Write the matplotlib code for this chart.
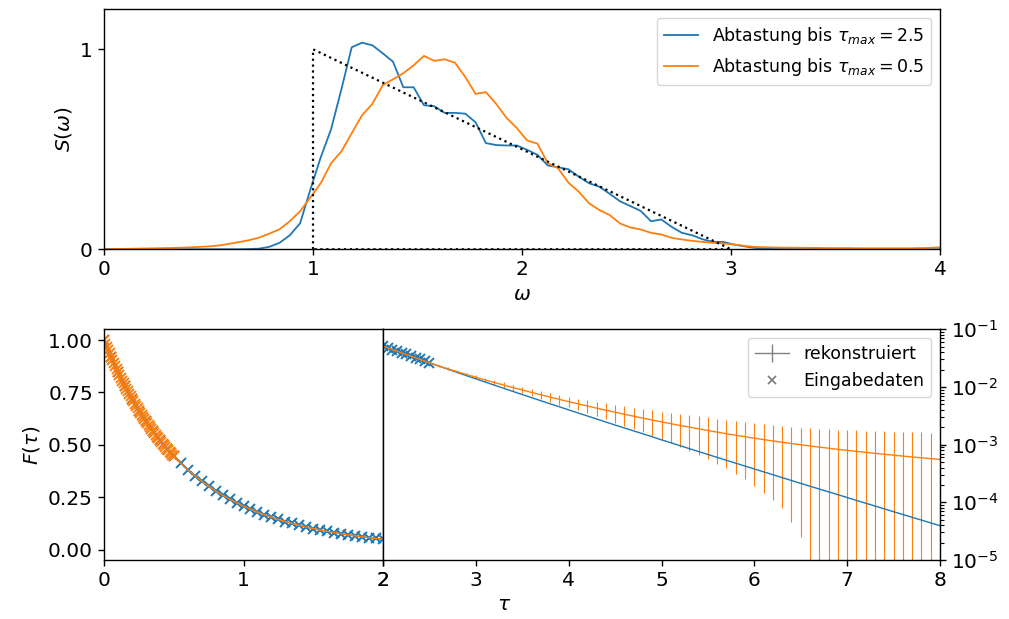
import numpy as np
import matplotlib
matplotlib.use("Agg")
import matplotlib.pyplot as plt
from matplotlib.ticker import LogLocator, NullFormatter

blue = "#1f77b4"
orange = "#ff7f0e"

# --- top panel: spectra S(omega) ---
omega = np.linspace(0, 4, 82)
S_blue = [0, 0, 0, 0, 0, 0, 0, 0, 0, 0, 0, 0, 0, 0,
          0.001, 0.003, 0.012, 0.032, 0.07, 0.13, 0.30, 0.46, 0.60, 0.80,
          1.01, 1.033, 1.02, 0.98, 0.938, 0.81, 0.81, 0.72, 0.715, 0.682,
          0.682, 0.678, 0.635, 0.531, 0.521, 0.519, 0.519, 0.497, 0.472, 0.419,
          0.41, 0.40, 0.363, 0.33, 0.313, 0.277, 0.24, 0.216, 0.192, 0.14,
          0.149, 0.112, 0.082, 0.07, 0.05, 0.037, 0.037, 0.024, 0.015, 0.007,
          0.003, 0.001, 0.001, 0, 0, 0, 0, 0, 0, 0, 0, 0, 0, 0, 0, 0, 0, 0]
S_orange = [0.0, 0.001, 0.002, 0.003, 0.004, 0.005, 0.006, 0.007, 0.009, 0.011,
            0.014, 0.018, 0.026, 0.035, 0.045, 0.058, 0.078, 0.10, 0.14, 0.19,
            0.26, 0.33, 0.43, 0.49, 0.58, 0.67, 0.727, 0.82, 0.85, 0.88,
            0.92, 0.967, 0.942, 0.95, 0.933, 0.862, 0.777, 0.786, 0.727, 0.657,
            0.606, 0.544, 0.528, 0.43, 0.405, 0.333, 0.288, 0.23, 0.196, 0.171,
            0.129, 0.109, 0.099, 0.082, 0.074, 0.057, 0.049, 0.042, 0.037, 0.032,
            0.029, 0.024, 0.017, 0.012, 0.010, 0.009, 0.008, 0.008, 0.007, 0.007,
            0.006, 0.006, 0.006, 0.005, 0.005, 0.005, 0.005, 0.005, 0.005, 0.006,
            0.007, 0.010]
tri_omega = [1, 1, 3, 1]
tri_S = [0, 1, 0, 0]

# --- bottom panels: F(tau) ---
tau_blue = np.linspace(0, 2.5, 51)
F_blue = [1.000, 0.920, 0.847, 0.781, 0.720, 0.664, 0.612, 0.565, 0.522, 0.483,
          0.446, 0.413, 0.382, 0.354, 0.328, 0.304, 0.281, 0.261, 0.242, 0.225,
          0.209, 0.194, 0.180, 0.168, 0.156, 0.145, 0.135, 0.126, 0.117, 0.109,
          0.102, 0.0948, 0.0884, 0.0824, 0.0769, 0.0718, 0.0670, 0.0626, 0.0585, 0.0546,
          0.0511, 0.0477, 0.0446, 0.0418, 0.0391, 0.0366, 0.0342, 0.0320, 0.0300, 0.0281,
          0.0263]
tau_orange = np.linspace(0, 0.5, 51)
F_orange = [1.000, 0.983, 0.967, 0.951, 0.936, 0.920, 0.905, 0.890, 0.876, 0.861,
            0.847, 0.834, 0.820, 0.807, 0.794, 0.781, 0.768, 0.756, 0.743, 0.731,
            0.720, 0.708, 0.697, 0.686, 0.675, 0.664, 0.653, 0.643, 0.632, 0.622,
            0.612, 0.603, 0.593, 0.584, 0.575, 0.565, 0.557, 0.548, 0.539, 0.531,
            0.522, 0.514, 0.506, 0.498, 0.490, 0.483, 0.475, 0.468, 0.460, 0.453,
            0.446]

tau_rec = np.linspace(2, 8, 61)
rec_blue = [0.0511, 0.0446, 0.0391, 0.0342, 0.0300, 0.0263, 0.0231, 0.0203, 0.01785, 0.01571,
            0.01384, 0.01219, 0.01075, 0.00949, 0.00837, 0.00740, 0.00654, 0.00578, 0.00511, 0.00453,
            0.00401, 0.00355, 0.00315, 0.00279, 0.00247, 0.00219, 0.00195, 0.00173, 0.00154, 0.00137,
            0.00121, 0.00108, 9.59e-4, 8.53e-4, 7.59e-4, 6.76e-4, 6.01e-4, 5.36e-4, 4.77e-4, 4.25e-4,
            3.79e-4, 3.38e-4, 3.01e-4, 2.68e-4, 2.39e-4, 2.13e-4, 1.90e-4, 1.70e-4, 1.52e-4, 1.36e-4,
            1.21e-4, 1.08e-4, 9.65e-5, 8.63e-5, 7.70e-5, 6.88e-5, 6.15e-5, 5.50e-5, 4.92e-5, 4.40e-5,
            3.93e-5]
rec_blue_err = [4e-6, 4e-6, 4e-6, 4e-6, 4e-6, 4e-6, 4e-6, 4e-6, 4e-6, 4e-6,
                4e-6, 4e-6, 4e-6, 4e-6, 4e-6, 4e-6, 4e-6, 4e-6, 4e-6, 4e-6,
                4e-6, 4e-6, 4e-6, 4e-6, 4e-6, 4.5e-6, 4.5e-6, 4.5e-6, 4.5e-6, 4.5e-6,
                4.5e-6, 4.5e-6, 4.5e-6, 4.5e-6, 4.5e-6, 5e-6, 5e-6, 5e-6, 5e-6, 5e-6,
                5e-6, 5e-6, 5e-6, 5e-6, 5e-6, 5e-6, 5e-6, 5e-6, 5e-6, 5e-6,
                5e-6, 5e-6, 5e-6, 5e-6, 5e-6, 5.5e-6, 5.5e-6, 5.5e-6, 5.5e-6, 5.5e-6,
                5.5e-6]
rec_orange_log10 = [-1.292, -1.350, -1.408, -1.466, -1.523, -1.580, -1.634, -1.686, -1.736, -1.785,
                    -1.832, -1.878, -1.923, -1.967, -2.010, -2.052, -2.094, -2.135, -2.175, -2.215,
                    -2.254, -2.292, -2.330, -2.367, -2.403, -2.438, -2.473, -2.507, -2.540, -2.573,
                    -2.605, -2.636, -2.667, -2.697, -2.726, -2.755, -2.783, -2.810, -2.837, -2.863,
                    -2.888, -2.912, -2.936, -2.959, -2.981, -3.002, -3.023, -3.043, -3.062, -3.081,
                    -3.099, -3.117, -3.134, -3.151, -3.167, -3.183, -3.198, -3.213, -3.228, -3.242,
                    -3.256]
rec_orange_err = [0.0012, 0.0012, 0.0012, 0.0012, 0.0012, 0.0012, 0.0012, 0.0012, 0.0012, 0.0012,
                  0.0012, 0.0012, 0.00118, 0.00118, 0.00116, 0.00116, 0.00115, 0.00115, 0.00114, 0.00114,
                  0.00115, 0.00116, 0.00118, 0.0012, 0.00122, 0.00123, 0.00124, 0.00125, 0.00125, 0.00126,
                  0.00126, 0.00125, 0.00124, 0.00123, 0.00122, 0.0012, 0.00118, 0.00116, 0.00114, 0.00112,
                  0.0011, 0.00108, 0.00105, 0.00102, 0.001, 0.00097, 0.00096, 0.00096, 0.00097, 0.00098,
                  0.00099, 0.001, 0.001, 0.00101, 0.00102, 0.00102, 0.00103, 0.00104, 0.00104, 0.00105,
                  0.00105]

# reconstructed curves: on [0, 2) they sit on the input data
n_left = 40
tau_line = np.concatenate([tau_blue[:n_left], tau_rec])
line_blue = np.concatenate([F_blue[:n_left], rec_blue])
line_orange = np.concatenate([F_blue[:n_left], 10.0 ** np.array(rec_orange_log10)])
err_blue = np.concatenate([np.zeros(n_left), rec_blue_err])
err_orange = np.concatenate([np.zeros(n_left), rec_orange_err])

plt.rcParams["font.size"] = 14.5
plt.rcParams["axes.linewidth"] = 1.0
plt.rcParams["xtick.major.size"] = 4.5
plt.rcParams["ytick.major.size"] = 4.5
plt.rcParams["xtick.major.width"] = 1.0
plt.rcParams["ytick.major.width"] = 1.0
plt.rcParams["ytick.minor.size"] = 2.6
plt.rcParams["ytick.minor.width"] = 0.8

fig = plt.figure(figsize=(10.09, 6.19), dpi=100)
ax_top = fig.add_axes([0.1031, 0.5973, 0.8285, 0.3877])
ax_lin = fig.add_axes([0.1031, 0.0953, 0.2765, 0.3727])
ax_log = fig.add_axes([0.3796, 0.0953, 0.5520, 0.3727])

ax_top.plot(omega, S_blue, color=blue, lw=1.3, label=r"Abtastung bis $\tau_{max} = 2.5$")
ax_top.plot(omega, S_orange, color=orange, lw=1.3, label=r"Abtastung bis $\tau_{max} = 0.5$")
ax_top.plot(tri_omega, tri_S, "k:", lw=1.6)
ax_top.set_xlim(0, 4)
ax_top.set_ylim(0, 1.2)
ax_top.set_xticks([0, 1, 2, 3, 4])
ax_top.set_yticks([0, 1])
ax_top.set_xlabel(r"$\omega$")
ax_top.set_ylabel(r"$S(\omega)$")
ax_top.legend(loc="upper right", fontsize=12.5)

for ax in (ax_lin, ax_log):
    ax.errorbar(tau_line, line_blue, yerr=err_blue, color=blue, lw=1.0, elinewidth=0.8, capsize=0)
    ax.plot(tau_blue, F_blue, "x", color=blue, ms=6.5, mew=1.4)
    ax.errorbar(tau_line, line_orange, yerr=err_orange, color=orange, lw=1.0, elinewidth=0.8, capsize=0)
    ax.plot(tau_orange, F_orange, "x", color=orange, ms=6.5, mew=1.4)

ax_lin.set_xlim(0, 2)
ax_lin.set_ylim(-0.048, 1.051)
ax_lin.set_xticks([0, 1, 2])
ax_lin.set_yticks([0, 0.25, 0.5, 0.75, 1.0])
ax_lin.set_ylabel(r"$F(\tau)$")

ax_log.set_yscale("log")
ax_log.set_xlim(2, 8)
ax_log.set_ylim(1e-5, 1e-1)
ax_log.set_xticks([2, 3, 4, 5, 6, 7, 8])
ax_log.yaxis.set_major_locator(LogLocator(base=10, numticks=10))
ax_log.yaxis.set_minor_locator(LogLocator(base=10, subs=np.arange(2, 10), numticks=20))
ax_log.yaxis.set_minor_formatter(NullFormatter())
ax_log.yaxis.tick_right()
ax_log.tick_params(axis="y", which="minor", right=True, left=False, length=2.6, width=0.8)

h_rec = ax_log.errorbar([np.nan], [np.nan], yerr=[np.nan], color="grey", lw=1.0, elinewidth=1.0)
h_in, = ax_log.plot([np.nan], [np.nan], "x", color="grey", ms=5.5, mew=1.3)
ax_log.legend([h_rec, h_in], ["rekonstruiert", "Eingabedaten"], loc="upper right", fontsize=12.5)

fig.text(0.5, 0.024, r"$\tau$", ha="center", va="center")

fig.savefig("out.png", dpi=100)
